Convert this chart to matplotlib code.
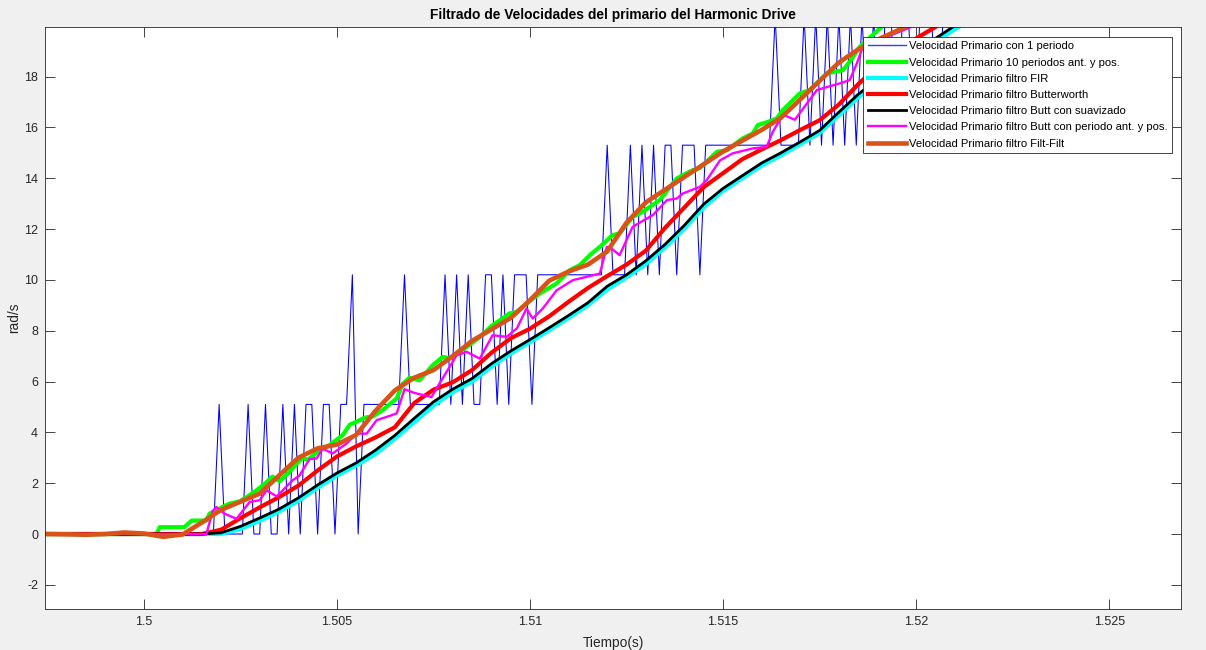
"""
Filtrado de velocidades del primario del Harmonic Drive
-------------------------------------------------------
Compares the raw primary velocity with several filtered versions.
"""

import numpy as np
import matplotlib
matplotlib.use("Agg")
import matplotlib.pyplot as plt

plt.rcParams["font.family"] = ["Liberation Sans", "DejaVu Sans"]
plt.rcParams["axes.unicode_minus"] = False

# -------------------------------
# Data
# -------------------------------
# raw velocity, one value per sample (sample period 0.15 ms)
blue_t0 = 1.4973
blue_dt = 0.00015
blue_v = [
    0, 0, 0, 0, 0, 0, 0, 0, 0, 0, 0, 0, 0, 0, 0, 0, 0, 0, 0, 0,
    0, 0, 0, 0, 0, 0, 0, 0, 0, 0, 0,
    5.1, 0, 0, 0, 0, 5.1, 0, 0, 5.1, 0, 0, 5.1, 0, 5.1, 0,
    5.1, 5.1, 0, 5.1, 5.1, 0, 5.1, 5.1, 10.2, 0, 5.1, 5.1, 5.1, 5.1, 5.1, 5.1, 5.1,
    10.2, 5.1, 5.1, 5.1, 5.1, 5.1, 5.1, 10.2, 5.1, 10.2, 5.1, 10.2, 5.1, 5.1,
    10.2, 10.2, 5.1, 10.2, 5.1, 10.2, 10.2, 10.2, 5.1,
    10.2, 10.2, 10.2, 10.2, 10.2, 10.2, 10.2, 10.2, 10.2, 10.2, 10.2, 10.2,
    15.3, 10.2, 10.2, 10.2, 15.3, 10.2, 15.3, 10.2, 15.3, 10.2, 15.3, 15.3,
    10.2, 15.3, 15.3, 15.3, 10.2,
    15.3, 15.3, 15.3, 15.3, 15.3, 15.3, 15.3, 15.3, 15.3, 15.3, 15.3, 15.3,
    20.4, 15.3, 15.3, 15.3, 15.3, 20.4, 15.3, 20.4, 15.3, 20.4, 15.3, 20.4,
    15.3, 20.4, 15.3, 20.4, 15.3, 20.4, 15.3,
    20.4, 20.4, 15.3, 20.4, 20.4, 15.3, 20.4, 20.4, 20.4, 15.3,
    20.4, 20.4, 20.4, 20.4, 20.4, 20.4, 20.4, 20.4, 20.4, 20.4,
]

# 10 periods before and after (stair-like moving average)
green_t = [
    1.4973, 1.50033, 1.50041, 1.50105, 1.50124, 1.50162, 1.50170, 1.50196,
    1.50222, 1.50248, 1.50266, 1.50292, 1.50315, 1.50333, 1.50352, 1.50377,
    1.50396, 1.50411, 1.50424, 1.50447, 1.50481, 1.50515, 1.50533, 1.50551,
    1.50572, 1.50592, 1.50618, 1.50655, 1.50670, 1.50688, 1.50714, 1.50748,
    1.50774, 1.50792, 1.50836, 1.50870, 1.50903, 1.50922, 1.50947, 1.50966,
    1.50991, 1.51025, 1.51069, 1.51103, 1.51129, 1.51155, 1.51173, 1.51181,
    1.51214, 1.51232, 1.51266, 1.51292, 1.51336, 1.51380, 1.51396, 1.51422,
    1.51440, 1.51484, 1.51510, 1.51551, 1.51577, 1.51590, 1.51613, 1.51639,
    1.51655, 1.51699, 1.51725, 1.51769, 1.51810, 1.51828, 1.51854, 1.51914,
    1.51984,
]
green_v = [
    0, 0, 0.27, 0.27, 0.53, 0.53, 0.8, 1.0,
    1.2, 1.28, 1.45, 1.72, 2.0, 2.26, 2.08, 2.44,
    2.78, 3.0, 2.92, 3.2, 3.5, 3.89, 4.3, 4.42,
    4.58, 4.62, 4.87, 5.34, 5.9, 6.15, 6.05, 6.64,
    6.97, 6.92, 7.36, 7.75, 8.22, 8.41, 8.68, 8.74,
    9.07, 9.46, 9.86, 10.38, 10.58, 10.97, 11.2, 11.3,
    11.76, 11.83, 12.48, 12.68, 13.14, 13.99, 14.12, 14.32,
    14.4, 15.04, 15.1, 15.57, 15.76, 16.09, 16.2, 16.35,
    16.68, 17.34, 17.47, 18.13, 18.25, 18.58, 19.17, 20.0,
    21.0,
]

# smooth filters, read every 0.5 ms from 1.497 to 1.522
smooth_t = np.arange(1.497, 1.52201, 0.0005)
cyan_v = [
    0, 0, 0, 0, 0, 0, 0, 0, 0, 0, 0,
    0.2, 0.52, 0.88, 1.3, 1.82, 2.3, 2.7, 3.15, 3.75, 4.4,
    5.05, 5.58, 6.0, 6.58, 7.1, 7.55, 8.02, 8.5, 9.0, 9.62,
    10.1, 10.62, 11.28, 12.02, 12.85, 13.5, 14.0, 14.5, 14.9, 15.33,
    15.78, 16.48, 17.18, 17.78, 18.38, 18.88, 19.38, 19.86, 20.32, 20.8,
]
red_v = [
    0, 0, 0, 0, 0, 0, 0, 0, 0, 0, 0.17,
    0.62, 1.05, 1.45, 1.9, 2.5, 3.05, 3.45, 3.8, 4.2, 5.15,
    5.68, 5.97, 6.45, 7.13, 7.7, 8.08, 8.57, 9.14, 9.68, 10.15,
    10.6, 11.15, 12.05, 12.85, 13.65, 14.2, 14.75, 15.13, 15.5, 15.9,
    16.28, 16.9, 17.7, 18.4, 19.0, 19.5, 19.95, 20.4, 20.8, 21.2,
]
black_v = [
    0, 0, 0, 0, 0, 0, 0, 0, 0, 0, 0.05,
    0.3, 0.63, 0.98, 1.42, 1.93, 2.4, 2.8, 3.3, 3.88, 4.55,
    5.2, 5.7, 6.12, 6.7, 7.2, 7.65, 8.12, 8.6, 9.1, 9.75,
    10.2, 10.75, 11.4, 12.15, 12.98, 13.6, 14.1, 14.6, 15.0, 15.43,
    15.88, 16.6, 17.3, 17.9, 18.5, 19.0, 19.5, 20.0, 20.45, 20.9,
]
orange_v = [
    0.0, 0.0, -0.01, -0.03, 0.0, 0.06, 0.02, -0.11, -0.02, 0.45, 0.95,
    1.27, 1.59, 2.3, 3.0, 3.37, 3.52, 3.9, 4.85, 5.65, 6.15,
    6.45, 7.0, 7.6, 8.05, 8.5, 9.2, 9.97, 10.33, 10.6, 11.12,
    12.25, 13.05, 13.55, 14.05, 14.55, 15.05, 15.48, 15.9, 16.38, 17.1,
    17.83, 18.55, 19.07, 19.45, 19.8, 20.15, 20.5, 20.9, 21.3, 21.7,
]

# Butterworth with previous/next period (wiggly)
magenta_t = [
    1.4973, 1.50162, 1.50178, 1.50188, 1.50209, 1.50240, 1.50274, 1.50300,
    1.50318, 1.50344, 1.50385, 1.50403, 1.50429, 1.50447, 1.50463, 1.50489,
    1.50525, 1.50551, 1.50577, 1.50603, 1.50637, 1.50655, 1.50675, 1.50701,
    1.50745, 1.50766, 1.50810, 1.50836, 1.50870, 1.50903, 1.50940, 1.50966,
    1.50991, 1.51007, 1.51033, 1.51069, 1.51111, 1.51147, 1.51181, 1.51199,
    1.51214, 1.51232, 1.51266, 1.51318, 1.51355, 1.51380, 1.51396, 1.51440,
    1.51458, 1.51492, 1.51525, 1.51577, 1.51613, 1.51629, 1.51647, 1.51655,
    1.51686, 1.51743, 1.51802, 1.51828, 1.51846, 1.51862, 1.51995, 1.52061,
]
magenta_v = [
    0, 0, 0.9, 1.06, 0.8, 0.6, 1.26, 1.33,
    1.72, 1.48, 2.11, 2.3, 2.95, 2.97, 3.36, 3.17,
    3.56, 3.95, 3.95, 4.48, 4.65, 4.75, 5.7, 5.55,
    5.39, 5.93, 7.03, 7.17, 6.9, 7.82, 7.76, 8.09,
    8.87, 8.48, 8.87, 9.59, 9.99, 10.12, 10.25, 11.3,
    11.2, 10.97, 12.09, 12.55, 13.14, 13.2, 13.4, 13.66,
    13.93, 14.7, 14.98, 15.17, 15.24, 15.83, 16.29, 16.5,
    16.3, 17.47, 17.73, 17.86, 18.5, 19.17, 20.0, 20.8,
]

labels = [
    "Velocidad Primario con 1 periodo",
    "Velocidad Primario 10 periodos ant. y pos.",
    "Velocidad Primario filtro FIR",
    "Velocidad Primario filtro Butterworth",
    "Velocidad Primario filtro Butt con suavizado",
    "Velocidad Primario filtro Butt con periodo ant. y pos.",
    "Velocidad Primario filtro Filt-Filt",
]

x_ticks = [1.5, 1.505, 1.51, 1.515, 1.52, 1.525]
x_tick_labels = ["1.5", "1.505", "1.51", "1.515", "1.52", "1.525"]
y_ticks = [-2, 0, 2, 4, 6, 8, 10, 12, 14, 16, 18]


def main():
    dark = "#262626"
    blue_t = blue_t0 + blue_dt * np.arange(len(blue_v))

    fig = plt.figure(figsize=(12.06, 6.5), dpi=100, facecolor="#f0f0f0")
    ax = fig.add_axes([45 / 1206, 41 / 650, 1136 / 1206, 582 / 650])

    ax.plot(blue_t, blue_v, color="#0000ff", lw=0.75, label=labels[0])
    ax.plot(green_t, green_v, color="#00ff00", lw=3.0, label=labels[1])
    ax.plot(smooth_t, cyan_v, color="#00ffff", lw=3.0, label=labels[2])
    ax.plot(smooth_t, red_v, color="#ff0000", lw=3.0, label=labels[3])
    ax.plot(smooth_t, black_v, color="#000000", lw=2.0, label=labels[4])
    ax.plot(magenta_t, magenta_v, color="#ff00ff", lw=1.7, label=labels[5])
    ax.plot(smooth_t, orange_v, color="#d95319", lw=3.3, label=labels[6])

    ax.set_xlim(1.49744, 1.52686)
    ax.set_ylim(-2.95, 19.95)
    ax.set_xticks(x_ticks)
    ax.set_xticklabels(x_tick_labels)
    ax.set_yticks(y_ticks)
    ax.tick_params(direction="in", length=7, width=0.6, colors=dark,
                   labelsize=9, top=True, right=True, pad=5)
    for s in ax.spines.values():
        s.set_color(dark)
        s.set_linewidth(0.6)

    ax.set_title("Filtrado de Velocidades del primario del Harmonic Drive",
                 fontsize=9.9, fontweight="bold", pad=6)
    ax.set_xlabel("Tiempo(s)", fontsize=9.9, color=dark, labelpad=6)
    ax.set_ylabel("rad/s", fontsize=9.9, color=dark, labelpad=2)

    leg = ax.legend(loc="upper right", bbox_to_anchor=(0.992, 0.983),
                    borderaxespad=0, fontsize=8.1, fancybox=False,
                    framealpha=1, edgecolor=dark, handlelength=3.4,
                    handletextpad=0.25, labelspacing=0.55, borderpad=0.4)
    leg.get_frame().set_linewidth(0.6)
    leg.get_lines()[0].set_color("#3b3bff")
    leg.get_lines()[0].set_linewidth(1.0)

    fig.savefig("out.png", dpi=100, facecolor=fig.get_facecolor())
    plt.close(fig)


if __name__ == "__main__":
    main()
